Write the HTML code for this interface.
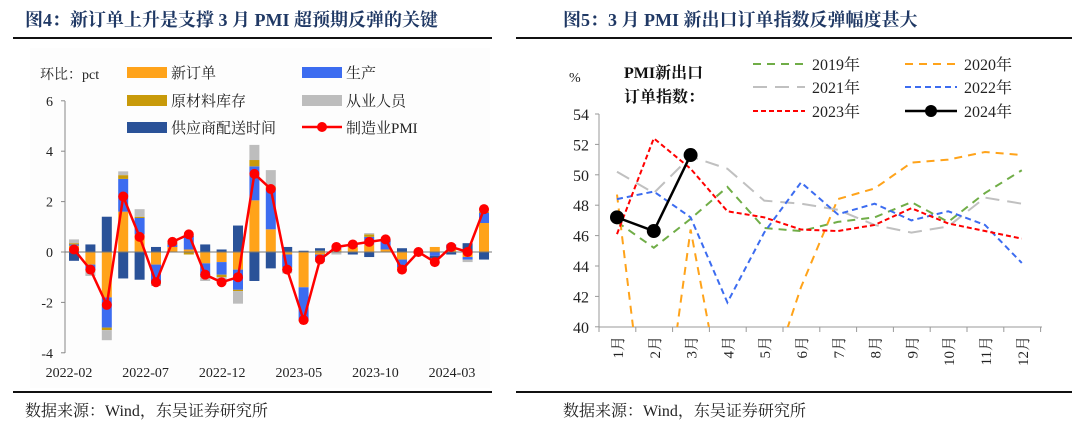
<!DOCTYPE html>
<html><head><meta charset="utf-8">
<style>
html,body{margin:0;padding:0;background:#fff;width:1080px;height:445px;overflow:hidden;}
svg{display:block;font-family:"Liberation Serif","Noto Serif CJK SC",serif;overflow:hidden;}
</style></head>
<body>
<svg id="s" width="1080" height="445" viewBox="0 0 1080 445">
<g>
<text x="25" y="26" font-size="18" font-weight="bold" fill="#1f3864">图4：新订单上升是支撑 3 月 PMI 超预期反弹的关键</text>
<rect x="13" y="37" width="479" height="2" fill="#111"/>
<rect x="13" y="391" width="479" height="2" fill="#111"/>
<text x="25" y="416" font-size="16" fill="#222">数据来源：Wind，东吴证券研究所</text>
</g>
<g>
<text x="563" y="26" font-size="18" font-weight="bold" fill="#1f3864">图5：3 月 PMI 新出口订单指数反弹幅度甚大</text>
<rect x="516" y="37" width="556" height="2" fill="#111"/>
<rect x="516" y="391" width="556" height="2" fill="#111"/>
<text x="563" y="416" font-size="16" fill="#222">数据来源：Wind，东吴证券研究所</text>
</g>
<g id="left"></g>
<g id="right"></g>
</svg>
<script>
// ---- Left chart data ----
const months = ["2022-02","2022-03","2022-04","2022-05","2022-06","2022-07","2022-08","2022-09","2022-10","2022-11","2022-12","2023-01","2023-02","2023-03","2023-04","2023-05","2023-06","2023-07","2023-08","2023-09","2023-10","2023-11","2023-12","2024-01","2024-02","2024-03"];
const newOrders = [0.25,-0.5,-1.8,1.6,0.7,-0.5,0.2,0.1,-0.45,-0.4,-0.7,2.05,0.9,-0.1,-1.4,-0.1,0.1,0.2,0.3,0.1,-0.3,0,0.2,0.1,-0.2,1.15];
const production = [0.05,-0.2,-1.2,1.3,0.65,-0.7,0.1,0.5,-0.5,-0.5,-0.8,1.35,1.6,-0.5,-1.3,-0.2,0.05,0.1,0.3,0.3,-0.3,0,-0.15,0.2,-0.1,0.4];
const rawStock = [0.05,-0.05,-0.1,0.15,0.05,-0.05,0.05,-0.1,-0.05,-0.1,-0.05,0.25,0.1,-0.05,-0.05,0.05,0,0.05,0.1,0,-0.05,0,0,0,0,0.05];
const employment = [0.15,-0.2,-0.4,0.15,0.3,-0.1,0,0,-0.15,-0.1,-0.5,0.6,0.65,-0.2,0,-0.1,-0.1,0,0.05,0,0,0,0,0,-0.1,0.15];
const delivery = [-0.35,0.3,1.4,-1.05,-1.1,0.2,0,0.05,0.3,0.1,1.05,-1.15,-0.65,0.2,0.05,0.1,0,-0.1,-0.2,0.1,0.15,0,-0.1,-0.1,0.35,-0.3];
const pmiChange = [0.1,-0.7,-2.1,2.2,0.6,-1.2,0.4,0.7,-0.9,-1.2,-1.0,3.1,2.5,-0.7,-2.7,-0.3,0.2,0.3,0.4,0.5,-0.7,0.0,-0.4,0.2,0.0,1.7];
const leftTicks = [6,4,2,0,-2,-4];
const leftXLabels = ["2022-02","2022-07","2022-12","2023-05","2023-10","2024-03"];

// ---- Right chart data ----
const monthLabels = ["1月","2月","3月","4月","5月","6月","7月","8月","9月","10月","11月","12月"];
const y2019 = [46.9,45.2,47.1,49.2,46.5,46.3,46.9,47.2,48.2,46.9,48.8,50.3];
const y2020 = [48.7,28.7,46.4,33.5,35.3,42.6,48.4,49.1,50.8,51.0,51.5,51.3];
const y2021 = [50.2,48.8,51.2,50.4,48.3,48.1,47.7,46.7,46.2,46.6,48.5,48.1];
const y2022 = [48.4,48.9,47.2,41.6,46.2,49.5,47.4,48.1,47.0,47.6,46.7,44.2];
const y2023 = [46.1,52.4,50.4,47.6,47.2,46.4,46.3,46.7,47.8,46.8,46.3,45.8];
const y2024 = [47.2,46.3,51.3];
const rightTicks = [54,52,50,48,46,44,42,40];

const NS="http://www.w3.org/2000/svg";
function mk(parent,tag,attrs,txt){const e=document.createElementNS(NS,tag);for(const k in attrs)e.setAttribute(k,attrs[k]);if(txt!==undefined)e.textContent=txt;parent.appendChild(e);return e;}
const L=document.getElementById('left'), R=document.getElementById('right');

// ---- Left chart ----
const lY=v=>252-v*25.2;
const lX=i=>74+i*16.4;
const bw=10;
mk(L,'rect',{x:30,y:48,width:460,height:340,fill:'#fdfdfd'});
mk(L,'line',{x1:65,y1:101,x2:65,y2:353,stroke:'#888','stroke-width':1});
leftTicks.forEach(t=>{
  mk(L,'line',{x1:61,y1:lY(t),x2:65,y2:lY(t),stroke:'#888'});
  const e=mk(L,'text',{x:53,y:lY(t)+5,'font-size':14,'text-anchor':'end',fill:'#222'},String(t));
  
  
});
leftXLabels.forEach((lb,k)=>{
  const e=mk(L,'text',{x:69+k*76.6,y:377,'font-size':14,'text-anchor':'middle',fill:'#222'},lb);
  
  
});
const series=[[newOrders,'#ffa31a','new-orders'],[production,'#3c6cf0','production'],[rawStock,'#c89a0a','raw-material-stock'],[employment,'#bdbdbd','employment'],[delivery,'#2a5298','supplier-delivery']];
months.forEach((m,i)=>{
  let pos=0,neg=0;
  series.forEach(([arr,col,nm])=>{
    const v=arr[i]; if(v===0)return;
    let y0,y1;
    if(v>0){y0=pos;y1=pos+v;pos=y1;}else{y0=neg;y1=neg+v;neg=y1;}
    const top=lY(Math.max(y0,y1)),h=Math.abs(lY(y0)-lY(y1));
    const r=mk(L,'rect',{x:lX(i)-bw/2,y:top,width:bw,height:h,fill:col});
    
    
  });
});
mk(L,'line',{x1:65,y1:252,x2:492,y2:252,stroke:'#777','stroke-width':1});
mk(L,'polyline',{points:pmiChange.map((v,i)=>lX(i)+','+lY(v)).join(' '),fill:'none',stroke:'#f00','stroke-width':2.5});
pmiChange.forEach((v,i)=>{
  const c=mk(L,'circle',{cx:lX(i),cy:lY(v),r:5,fill:'#f00'});
  
  
});
mk(L,'text',{x:40,y:79,'font-size':14,fill:'#222'},'环比：pct');
const lg=[[135,72,'#ffa31a','新订单','rect'],[310,72,'#3c6cf0','生产','rect'],[135,100,'#c89a0a','原材料库存','rect'],[310,100,'#bdbdbd','从业人员','rect'],[135,127,'#2a5298','供应商配送时间','rect'],[310,127,'#f00','制造业PMI','line']];
lg.forEach(([x,y,c,t,k])=>{
  const g=mk(L,'g',{});
  
  
  if(k==='rect')mk(g,'rect',{x:x-8,y:y-5,width:40,height:11,fill:c});
  else{mk(g,'line',{x1:x-8,y1:y,x2:x+32,y2:y,stroke:c,'stroke-width':2.5});mk(g,'circle',{cx:x+12,cy:y,r:5,fill:c});}
  mk(g,'text',{x:x+36,y:y+6,'font-size':15,fill:'#222'},t);
});

// ---- Right chart ----
const rY=v=>114+(54-v)*15.2;
const rX=i=>617+i*36.8;
mk(R,'defs',{}).innerHTML='<clipPath id="rc"><rect x="599" y="100" width="450" height="227"/></clipPath>';
mk(R,'line',{x1:599,y1:114,x2:599,y2:327,stroke:'#999'});
mk(R,'line',{x1:599,y1:327,x2:1042,y2:327,stroke:'#999'});
rightTicks.forEach(t=>{
  mk(R,'line',{x1:595,y1:rY(t),x2:599,y2:rY(t),stroke:'#999'});
  const e=mk(R,'text',{x:589,y:rY(t)+6,'font-size':16,'text-anchor':'end',fill:'#222'},String(t));
  
  
});
for(let k=0;k<=12;k++)mk(R,'line',{x1:599+k*36.8,y1:327,x2:599+k*36.8,y2:332,stroke:'#999'});
monthLabels.forEach((lb,i)=>{
  const e=mk(R,'text',{transform:'translate('+(rX(i)+6)+',336) rotate(-90)','font-size':15,'text-anchor':'end',fill:'#222'},lb);
  
  
});
mk(R,'text',{x:569,y:82,'font-size':14,fill:'#222'},'%');
mk(R,'text',{x:624,y:78,'font-size':16,'font-weight':'bold',fill:'#111'},'PMI新出口');
mk(R,'text',{x:624,y:102,'font-size':16,'font-weight':'bold',fill:'#111'},'订单指数：');
const lines=[[y2019,'#70ad47','8,6','2019'],[y2020,'#ffa31a','8,6','2020'],[y2021,'#c0c0c0','14,8','2021'],[y2022,'#3c6cf0','6,4','2022'],[y2023,'#f00','5,3','2023']];
const cg=mk(R,'g',{'clip-path':'url(#rc)'});
lines.forEach(([arr,c,d,nm])=>{
  const p=mk(cg,'polyline',{points:arr.map((v,i)=>rX(i)+','+rY(v)).join(' '),fill:'none',stroke:c,'stroke-width':2,'stroke-dasharray':d});
  
  
});
const p24=mk(R,'polyline',{points:y2024.map((v,i)=>rX(i)+','+rY(v)).join(' '),fill:'none',stroke:'#000','stroke-width':2.5});


y2024.forEach((v,i)=>{
  const c=mk(R,'circle',{cx:rX(i),cy:rY(v),r:7,fill:'#000'});
  
  
});
const rl=[[753,64,lines[0],'2019年'],[905,64,lines[1],'2020年'],[753,87,lines[2],'2021年'],[905,87,lines[3],'2022年'],[753,111,lines[4],'2023年'],[905,111,null,'2024年']];
rl.forEach(([x,y,s,t])=>{
  const g=mk(R,'g',{});
  
  
  if(s)mk(g,'line',{x1:x,y1:y,x2:x+52,y2:y,stroke:s[1],'stroke-width':2,'stroke-dasharray':s[2]});
  else{mk(g,'line',{x1:x,y1:y,x2:x+52,y2:y,stroke:'#000','stroke-width':2.5});mk(g,'circle',{cx:x+26,cy:y,r:6,fill:'#000'});}
  mk(g,'text',{x:x+59,y:y+6,'font-size':16,fill:'#222'},t);
});
</script>
</body></html>
